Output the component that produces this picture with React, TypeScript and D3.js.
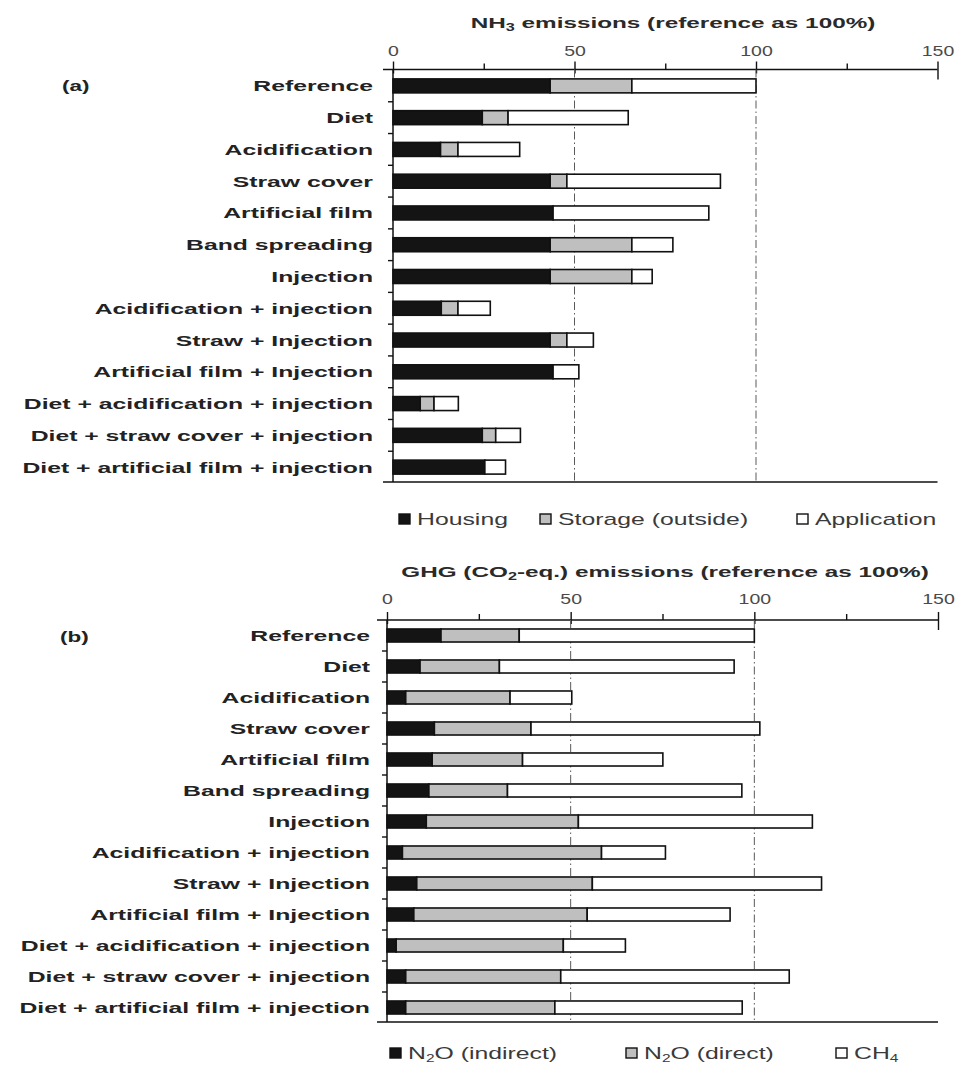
import React, { useEffect, useRef } from "react";
import * as d3 from "d3";

// Mitigation scenarios, listed top to bottom
const CATEGORIES = [
  "Reference",
  "Diet",
  "Acidification",
  "Straw cover",
  "Artificial film",
  "Band spreading",
  "Injection",
  "Acidification + injection",
  "Straw + Injection",
  "Artificial film + Injection",
  "Diet + acidification + injection",
  "Diet + straw cover + injection",
  "Diet + artificial film + injection",
];

// (a) NH3 emissions by stage, % of reference
const NH3_HOUSING = [43.3, 24.6, 13.1, 43.3, 44.1, 43.3, 43.3, 13.3, 43.3, 44.1, 7.5, 24.6, 25.3];
const NH3_STORAGE = [22.5, 7.1, 4.8, 4.6, 0, 22.5, 22.5, 4.6, 4.6, 0, 3.8, 3.7, 0];
const NH3_APPLICATION = [34.2, 33.1, 17.0, 42.3, 42.9, 11.3, 5.6, 8.9, 7.3, 7.1, 6.7, 6.8, 5.7];

// (b) GHG emissions by source, % of reference (CO2-eq.)
const GHG_N2O_INDIRECT = [14.7, 9.0, 5.1, 12.9, 12.3, 11.4, 10.7, 4.2, 8.1, 7.3, 2.5, 5.1, 5.1];
const GHG_N2O_DIRECT = [21.3, 21.6, 28.4, 26.3, 24.6, 21.4, 41.4, 54.2, 47.8, 47.2, 45.5, 42.2, 40.6];
const GHG_CH4 = [64.0, 63.9, 16.8, 62.3, 38.2, 63.8, 63.7, 17.4, 62.4, 38.9, 16.9, 62.2, 51.0];

const X_DOMAIN = [0, 150];
const X_TICKS = [0, 25, 50, 75, 100, 125, 150];
const X_LABELLED = [0, 50, 100, 150];
const REF_LINES = [50, 100];

const FONT = "'Liberation Sans', Arial, Helvetica, sans-serif";
const FILLS = ["#141414", "#bfbfbf", "#ffffff"];

type Seg = { key: string; name: React.ReactNode };

type Panel = {
  tag: string;
  tagX: number;
  tagY: number;
  title: React.ReactNode;
  titleX: number;
  titleY: number;
  xLeft: number;
  xRight: number;
  axisY: number;
  bottomY: number;
  bandTop: number;
  bandBottom: number;
  padInner: number;
  labelRight: number;
  tickLabelOffset: number;
  legendY: number;
  legendX: number[];
  series: number[][];
  segs: Seg[];
};

function Stretch({ x, y, sx, anchor, children, ...rest }: any) {
  return (
    <text transform={`translate(${x},${y}) scale(${sx},1)`} textAnchor={anchor} {...rest}>
      {children}
    </text>
  );
}

function TopAxis({ scale, y, labelOffset }: { scale: d3.ScaleLinear<number, number>; y: number; labelOffset: number }) {
  const ref = useRef<SVGGElement>(null);
  useEffect(() => {
    const g = d3.select(ref.current!);
    g.selectAll("*").remove();
    g.call(
      d3
        .axisTop(scale)
        .tickValues(X_TICKS)
        .tickSize(6)
        .tickSizeOuter(0)
        .tickFormat((d) => (X_LABELLED.includes(+d) ? String(d) : ""))
    );
    g.select(".domain").remove();
    g.selectAll(".tick line")
      .attr("stroke", "#111")
      .attr("stroke-width", 1.4)
      .attr("y1", (d: any) => (X_LABELLED.includes(+d) ? (d === 150 ? 10 : 4) : 0))
      .attr("y2", (d: any) => (X_LABELLED.includes(+d) ? -8 : -6));
    g.selectAll(".tick text")
      .attr("y", labelOffset)
      .attr("dy", 0)
      .attr("fill", "#4a4a4a")
      .attr("font-size", 15)
      .attr("font-family", FONT)
      .attr("transform", "scale(1.3,1)");
  }, [scale, labelOffset]);
  return <g ref={ref} transform={`translate(0,${y})`} />;
}

function PanelChart({ p }: { p: Panel }) {
  const x = d3.scaleLinear().domain(X_DOMAIN).range([p.xLeft, p.xRight]);
  const y = d3
    .scaleBand<string>()
    .domain(CATEGORIES)
    .range([p.bandTop, p.bandBottom])
    .paddingInner(p.padInner)
    .paddingOuter(p.padInner / 2);

  const rows = CATEGORIES.map((c, i) => {
    const r: any = { cat: c };
    p.segs.forEach((s, k) => (r[s.key] = p.series[k][i]));
    return r;
  });
  const stack = d3.stack<any>().keys(p.segs.map((s) => s.key))(rows);

  const gap = (y.step() - y.bandwidth()) / 2;
  const boundaries = CATEGORIES.map((c) => (y(c) as number) + y.bandwidth() + gap).slice(0, -1);

  return (
    <g>
      {/* panel tag */}
      <Stretch x={p.tagX} y={p.tagY} sx={1.5} anchor="start" fontSize={15} fontWeight="bold" fill="#222">
        {p.tag}
      </Stretch>
      {/* axis title */}
      <Stretch x={p.titleX} y={p.titleY} sx={1.62} anchor="middle" fontSize={15} fontWeight="bold" fill="#2a2a2a">
        {p.title}
      </Stretch>

      {/* top axis line */}
      <line x1={p.xLeft - 10} x2={p.xRight} y1={p.axisY} y2={p.axisY} stroke="#111" strokeWidth={1.5} />
      <TopAxis scale={x} y={p.axisY} labelOffset={p.tickLabelOffset} />

      {/* reference lines */}
      {REF_LINES.map((v) => (
        <line
          key={v}
          x1={x(v)}
          x2={x(v)}
          y1={p.axisY}
          y2={p.bottomY}
          stroke="#5a5a5a"
          strokeWidth={1}
          strokeDasharray="8 3 1.5 3"
        />
      ))}

      {/* left axis */}
      <line x1={x(0)} x2={x(0)} y1={p.axisY} y2={p.bottomY} stroke="#111" strokeWidth={1.5} />
      {boundaries.map((b, i) => (
        <line key={i} x1={x(0) - 5} x2={x(0)} y1={b} y2={b} stroke="#111" strokeWidth={1.4} />
      ))}
      {/* bottom line */}
      <line x1={p.xLeft - 10} x2={p.xRight} y1={p.bottomY} y2={p.bottomY} stroke="#111" strokeWidth={1.5} />

      {/* category labels */}
      {CATEGORIES.map((c) => (
        <Stretch
          key={c}
          x={p.labelRight}
          y={(y(c) as number) + y.bandwidth() / 2 + 5.5}
          sx={1.65}
          anchor="end"
          fontSize={15}
          fontWeight="bold"
          fill="#222"
        >
          {c}
        </Stretch>
      ))}

      {/* stacked bars */}
      {stack.map((layer, k) => (
        <g key={layer.key}>
          {layer.map((d, i) =>
            d[1] - d[0] > 0 ? (
              <rect
                key={i}
                x={x(d[0])}
                y={y(CATEGORIES[i])}
                width={x(d[1]) - x(d[0])}
                height={y.bandwidth()}
                fill={FILLS[k]}
                stroke="#111"
                strokeWidth={1.6}
              />
            ) : null
          )}
        </g>
      ))}

      {/* legend */}
      {p.segs.map((s, k) => (
        <g key={s.key}>
          <rect
            x={p.legendX[k]}
            y={p.legendY - 11}
            width={11}
            height={10}
            fill={FILLS[k]}
            stroke="#111"
            strokeWidth={1.4}
          />
          <Stretch x={p.legendX[k] + 18} y={p.legendY} sx={1.55} anchor="start" fontSize={16} fill="#3a3a3a">
            {s.name}
          </Stretch>
        </g>
      ))}
    </g>
  );
}

export default function App() {
  const panels: Panel[] = [
    {
      tag: "(a)",
      tagX: 62,
      tagY: 91,
      title: (
        <>
          <tspan>NH</tspan>
          <tspan fontSize={10} dy={3}>3</tspan>
          <tspan dy={-3}> emissions (reference as 100%)</tspan>
        </>
      ),
      titleX: 673,
      titleY: 28,
      xLeft: 393,
      xRight: 937.5,
      axisY: 69.5,
      bottomY: 482,
      bandTop: 70,
      bandBottom: 483,
      padInner: 0.56,
      labelRight: 373,
      tickLabelOffset: -14,
      legendY: 525,
      legendX: [399, 540, 797],
      series: [NH3_HOUSING, NH3_STORAGE, NH3_APPLICATION],
      segs: [
        { key: "housing", name: "Housing" },
        { key: "storage", name: "Storage (outside)" },
        { key: "application", name: "Application" },
      ],
    },
    {
      tag: "(b)",
      tagX: 60,
      tagY: 642,
      title: (
        <>
          <tspan>GHG (CO</tspan>
          <tspan fontSize={10} dy={3}>2</tspan>
          <tspan dy={-3}>-eq.) emissions (reference as 100%)</tspan>
        </>
      ),
      titleX: 665,
      titleY: 577,
      xLeft: 387,
      xRight: 938,
      axisY: 620,
      bottomY: 1022,
      bandTop: 620,
      bandBottom: 1023,
      padInner: 0.58,
      labelRight: 370,
      tickLabelOffset: -16,
      legendY: 1059,
      legendX: [390, 626, 836],
      series: [GHG_N2O_INDIRECT, GHG_N2O_DIRECT, GHG_CH4],
      segs: [
        {
          key: "n2oIndirect",
          name: (
            <>
              <tspan>N</tspan>
              <tspan fontSize={10} dy={3}>2</tspan>
              <tspan dy={-3}>O (indirect)</tspan>
            </>
          ),
        },
        {
          key: "n2oDirect",
          name: (
            <>
              <tspan>N</tspan>
              <tspan fontSize={10} dy={3}>2</tspan>
              <tspan dy={-3}>O (direct)</tspan>
            </>
          ),
        },
        {
          key: "ch4",
          name: (
            <>
              <tspan>CH</tspan>
              <tspan fontSize={10} dy={3}>4</tspan>
            </>
          ),
        },
      ],
    },
  ];

  return (
    <svg
      width={960}
      height={1075}
      style={{ position: "absolute", left: 0, top: 0, background: "#fff" }}
      fontFamily={FONT}
    >
      <rect width={960} height={1075} fill="#fff" />
      {panels.map((p) => (
        <PanelChart key={p.tag} p={p} />
      ))}
    </svg>
  );
}
